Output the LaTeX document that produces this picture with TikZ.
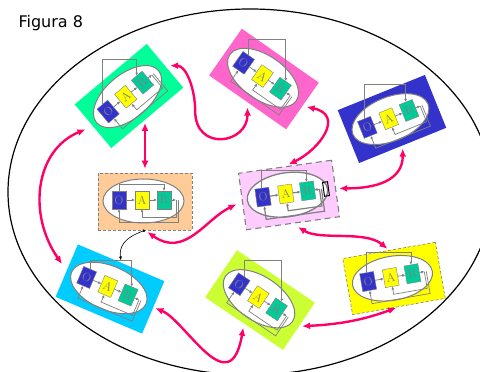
\documentclass[tikz,border=0pt]{standalone}
\usepackage{fontspec}
\usepackage{xcolor}
\usepackage{tikz}
\usetikzlibrary{arrows.meta}
\newfontfamily\figfont{DejaVu Sans}
\definecolor{Mint}{HTML}{00FF99}
\definecolor{Rose}{HTML}{FF66CC}
\definecolor{Indigo}{HTML}{3333CC}
\definecolor{Blush}{HTML}{FFCCFF}
\definecolor{Peach}{HTML}{FFCC99}
\definecolor{Sky}{HTML}{00CCFF}
\definecolor{LimeFill}{HTML}{CCFF33}
\definecolor{Lemon}{HTML}{FFFF00}
\definecolor{SeaGreen}{HTML}{00CC99}
\definecolor{Crimson}{HTML}{FF0066}
\definecolor{MidGrey}{HTML}{808080}

\begin{document}
\begin{tikzpicture}[x=1pt,y=1pt,
  unitbg/.style={rectangle,minimum width=94pt,minimum height=57pt,inner sep=0pt},
  dashedge/.style={draw=MidGrey,line width=0.6pt,dash pattern=on 3pt off 2pt},
  lens/.style={draw=MidGrey,fill=white,line width=1pt},
  oarbox/.style={draw=MidGrey,minimum width=14pt,minimum height=18pt,inner sep=0pt,text=MidGrey,font=\fontsize{12}{12}\selectfont},
  gline/.style={draw=MidGrey,line width=0.7pt,-{Latex[length=3pt,width=3pt]}},
  link/.style={Crimson,line width=2.4pt,{Latex[length=8pt,width=7pt]}-{Latex[length=8pt,width=7pt]}},
  pics/agent/.style 2 args={code={
    \node[unitbg,fill=#1] (-bg) at (0,0) {};
    \draw[lens] (-1.5,0.5) ellipse [x radius=40.5pt,y radius=22pt];
    \node[oarbox,fill=Indigo] (-o) at (-26,1.5) {O};
    \node[oarbox,fill=Lemon] (-a) at (-3,1.5) {A};
    \node[oarbox,fill=SeaGreen] (-r) at (19,1.5) {R};
    \coordinate (-t) at (0,#2);
    \draw[gline] (-o) -- (-a);
    \draw[gline] (-a) -- (-r);
    \draw[gline] (-r.east) -- (31,1.5);
    \draw[gline] (31,1.5) -- (31,-15.5) -- (-3,-15.5) -- (-a.south);
    \draw[gline] (33,1.5) -- (33,-21) -- (-26,-21) -- (-o.south);
  }}
]
\useasboundingbox (0,0) rectangle (480,372);
\draw[line width=1.2pt] (250,180) ellipse [x radius=242pt,y radius=183pt];
\node[font=\figfont\fontsize{16}{16}\selectfont,anchor=base west] (title) at (15,344) {Figura 8};

% the eight agents
\pic[rotate=40,transform shape] (gn) at (129,276) {agent={Mint}{48}};
\pic[rotate=-35,transform shape] (pk) at (264,293) {agent={Rose}{49}};
\pic[rotate=22,transform shape] (bu) at (392,253) {agent={Indigo}{37}};
\pic[rotate=8,transform shape,unitbg/.append style={draw=MidGrey,line width=1.1pt,dash pattern=on 6pt off 4pt},
  gline/.append style={line width=1.2pt},lens/.append style={line width=1.3pt}] (ct) at (289,177) {agent={Blush}{25}};
\node[draw=black,line width=1pt,minimum width=5pt,minimum height=14pt,inner sep=0pt,rotate=8] (ct-probe) at (326,183) {};
\pic[unitbg/.append style=dashedge] (og) at (145,170.5) {agent={Peach}{17.5}};
\pic[rotate=-23,transform shape] (sk) at (110,83) {agent={Sky}{31.5}};
\pic[rotate=-34,transform shape] (lm) at (260,72) {agent={LimeFill}{48}};
\pic[rotate=10,transform shape,unitbg/.append style=dashedge] (yw) at (394,93.5) {agent={Lemon}{27}};

% upright feedback loops O -> R
\foreach \u in {gn,pk,bu,og,sk,lm,yw}
  \draw[gline] (\u-o.north) -- (\u-o.north |- \u-t) -| (\u-r.north);
\draw[gline,line width=1.2pt] (ct-o.north) -- (ct-o.north |- ct-t) -| (ct-r.north);

% links
\draw[link,shorten <=5pt,shorten >=4pt] (gn-bg.south -| og-bg.north) -- (og-bg.north);
\draw[link,shorten <=8pt,shorten >=8pt] (gn-bg.west) .. controls +(-58,-24) and +(-39,56) .. (sk-bg.west);
\draw[link,shorten <=5pt,shorten >=5pt] (gn-bg.east) to[out=0,in=90] ++(30,-45) to[out=-90,in=-90,looseness=2] (pk-bg.south);
\draw[link,shorten <=4pt,shorten >=4pt] (pk-bg.east) .. controls +(42,-9) and +(35,17) .. (ct-bg.north);
\draw[link,shorten <=3pt,shorten >=3pt] (bu-bg.south) .. controls +(0,-35) and +(40,0) .. (ct-bg.east);
\draw[link,shorten <=3pt,shorten >=6pt] (og-bg.south) .. controls +(40,-28) and +(-37,-18) .. (ct-bg.west);
\draw[black,line width=0.6pt,{Circle[length=2.5pt]}-{Latex[length=4pt]},shorten >=2pt] (og-bg.south) .. controls +(-22,-8) and +(-2,15) .. (sk-bg.north);
\draw[link,shorten <=2pt,shorten >=4pt] (sk-bg.east) .. controls +(32,-13) and +(-14,-81) .. (lm-bg.south);
\draw[link,shorten <=3pt,shorten >=3pt] (lm-bg.east) to[out=3,in=200] (yw-bg.south);
\draw[link,shorten <=6pt,shorten >=2pt] (ct-bg.south) .. controls +(27,-17) and +(-24,20) .. (yw-bg.north);
\end{tikzpicture}
\end{document}
